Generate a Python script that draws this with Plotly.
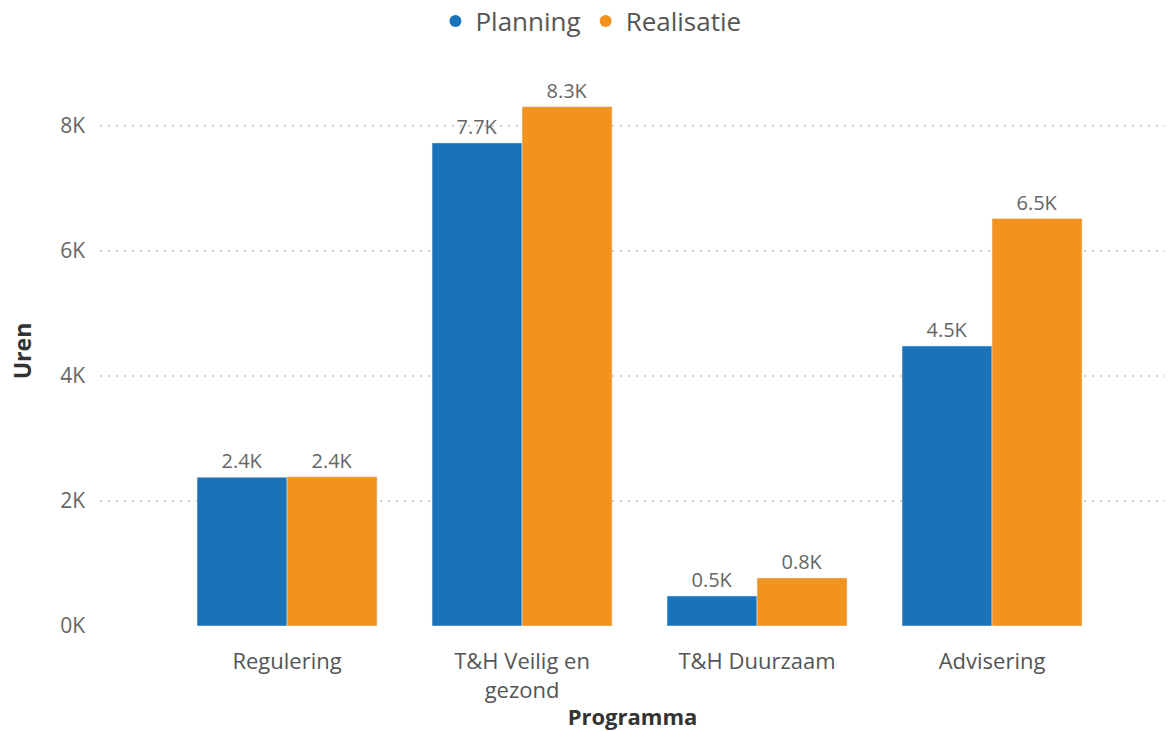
import plotly.graph_objects as go

categories = ["Regulering", "T&H Veilig en gezond", "T&H Duurzaam", "Advisering"]
tick_labels = ["Regulering", "T&H Veilig en<br>gezond", "T&H Duurzaam", "Advisering"]
planning = [2380, 7730, 480, 4480]
realisatie = [2390, 8310, 770, 6520]
y_ticks = [0, 2000, 4000, 6000, 8000]
y_tick_labels = ["0K", "2K", "4K", "6K", "8K"]

BLUE = "#1A72B9"
ORANGE = "#F2931F"
FONT = "Open Sans"

def fmt(v):
    return f"{v/1000:.1f}K"

fig = go.Figure()
fig.add_trace(go.Bar(x=categories, y=planning, name="Planning", marker_color=BLUE,
                     text=[fmt(v) for v in planning], textposition="outside",
                     textfont=dict(size=20, color="#666666"), cliponaxis=False, showlegend=False))
fig.add_trace(go.Bar(x=categories, y=realisatie, name="Realisatie", marker_color=ORANGE,
                     text=[fmt(v) for v in realisatie], textposition="outside",
                     textfont=dict(size=20, color="#666666"), cliponaxis=False, showlegend=False))
# legend entries with round markers
for name, col in [("Planning", BLUE), ("Realisatie", ORANGE)]:
    fig.add_trace(go.Scatter(x=[None], y=[None], mode="markers", name=name,
                             marker=dict(symbol="circle", size=17, color=col)))

fig.update_layout(
    width=1170, height=731,
    margin=dict(l=100, r=5, t=76, b=105, autoexpand=False),
    plot_bgcolor="white", paper_bgcolor="white",
    font=dict(family=FONT, color="#666666", size=16),
    barmode="group", bargap=0.234, bargroupgap=0,
    legend=dict(orientation="h", x=0.461, xanchor="center", y=1.1, yanchor="middle",
                font=dict(size=26, color="#555555"), itemsizing="constant",
                itemwidth=30, tracegroupgap=0),
    uniformtext=dict(minsize=20, mode="show"),
)
fig.update_xaxes(
    tickvals=categories, ticktext=tick_labels, range=[-0.796, 3.736],
    showgrid=False, showline=False, ticks="", automargin=False, ticklabelstandoff=20,
    tickfont=dict(size=22, color="#555555"),
    title=dict(text="<b>Programma</b>", font=dict(size=22, color="#333333"), standoff=10),
)
fig.update_yaxes(
    range=[0, 8800], tickvals=y_ticks, ticktext=y_tick_labels,
    showgrid=True, gridcolor="#D0D0D0", griddash="2px,6px", gridwidth=1.5,
    zeroline=False, showline=False, ticks="", ticklabelstandoff=14, automargin=False,
    tickfont=dict(size=21, color="#666666"),
    title=dict(text="<b>Uren</b>", font=dict(size=23, color="#333333"), standoff=22),
)
fig.write_html("out.html", config={"displayModeBar": False},
               post_script="document.body.style.margin='0';")
